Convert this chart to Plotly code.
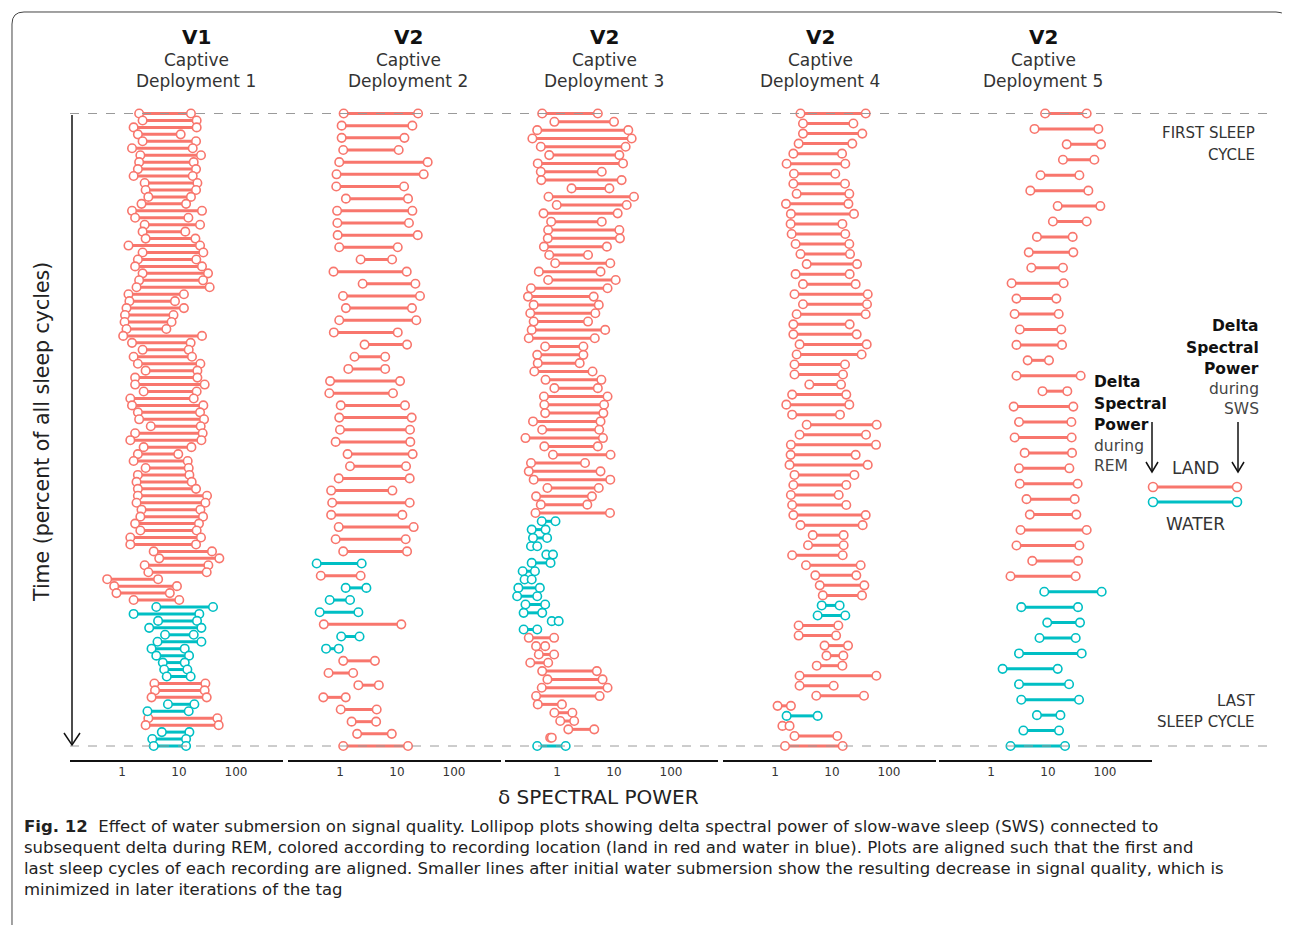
import plotly.graph_objects as go

W, H = 1290, 925
OFF = 8  # page body margin of the html page
RED = "#F8766D"
TEAL = "#00BFC4"
FONT = "DejaVu Sans"

# ---------------- data (REM = left end, SWS = right end) ----------------
titles_top = ["V1", "V2", "V2", "V2", "V2"]
titles_mid = ["Captive"] * 5
titles_bot = ["Deployment 1", "Deployment 2", "Deployment 3", "Deployment 4", "Deployment 5"]

tick_vals = [1, 10, 100]
tick_text = ["1", "10", "100"]

p1_rem = [2.0, 2.3, 1.6, 1.9, 2.3, 1.5, 2.1, 2.0, 1.9, 1.6,
          2.5, 2.6, 2.9, 2.2, 1.5, 1.7, 2.5, 2.3, 2.6, 1.3,
          2.3, 1.9, 1.7, 2.3, 2.0, 1.8, 1.3, 1.35, 1.2, 1.13,
          1.11, 1.2, 1.05, 1.5, 2.3, 1.6, 1.9, 2.6, 1.7, 1.7,
          2.4, 1.4, 1.5, 1.9, 2.0, 3.2, 1.7, 1.4, 2.4, 1.9,
          1.6, 2.6, 1.9, 1.8, 1.9, 1.9, 1.8, 2.2, 2.1, 1.7,
          2.1, 1.4, 1.4, 3.6, 4.5, 2.5, 2.9, 0.55, 0.73, 0.80,
          1.6, 4.0, 1.6, 4.3, 3.0, 5.7, 4.2, 3.3, 4.0, 5.2,
          5.5, 6.1, 3.7, 3.8, 3.3, 6.4, 2.8, 2.9, 2.6, 5.0,
          3.4, 3.6]
p1_sws = [16.2, 20.4, 20.4, 10.7, 19.9, 17.4, 24.3, 18.1, 19.9, 17.4,
          21.0, 19.9, 16.2, 13.3, 25.3, 14.6, 23.4, 12.9, 19.4, 23.4,
          26.7, 20.1, 25.3, 32.3, 26.4, 34.5, 12.2, 8.5, 12.2, 8.0,
          7.4, 6.0, 25.3, 16.0, 14.8, 16.9, 23.7, 21.0, 21.0, 28.2,
          20.4, 18.1, 26.7, 23.4, 27.5, 24.0, 26.0, 24.7, 16.5, 9.7,
          14.2, 14.8, 15.2, 16.7, 19.9, 31.0, 29.0, 23.7, 26.4, 22.4,
          20.4, 24.3, 19.9, 37.9, 51.0, 32.7, 30.6, 4.3, 9.2, 6.9,
          10.1, 39.5, 22.7, 20.7, 24.7, 18.1, 24.7, 12.6, 15.0, 12.6,
          14.0, 16.0, 29.0, 28.2, 30.6, 18.6, 14.8, 47.1, 49.7, 15.2,
          13.3, 13.3]
p1_loc = ("LLLLLLLLLL" "LLLLLLLLLL" "LLLLLLLLLL" "LLLLLLLLLL" "LLLLLLLLLL"
          "LLLLLLLLLL" "LLLLLLLLLL" "LWWWWWWWWW" "WWLLLWWLLW" "WW")

p2_rem = [1.16, 1.07, 1.07, 1.14, 0.97, 0.87, 0.86, 1.27, 0.89, 0.90,
          0.91, 0.97, 2.3, 0.77, 2.5, 1.13, 1.27, 0.97, 0.78, 2.7,
          1.8, 1.4, 0.67, 0.65, 1.03, 0.97, 1.0, 0.84, 1.36, 1.5,
          0.95, 0.70, 0.73, 0.70, 0.95, 0.84, 1.14, 0.39, 0.46, 1.26,
          0.66, 0.44, 0.52, 1.05, 0.57, 1.14, 0.63, 2.1, 0.51, 1.03,
          1.6, 2.0, 1.14]
p2_sws = [23.4, 18.6, 13.5, 10.7, 34.5, 29.4, 13.3, 15.6, 18.6, 16.2,
          23.1, 10.3, 8.2, 14.8, 21.0, 25.3, 18.3, 21.8, 10.3, 15.0,
          6.2, 6.2, 11.3, 8.5, 13.8, 18.1, 16.9, 17.1, 18.8, 14.4,
          16.7, 8.3, 16.7, 12.4, 19.6, 14.2, 15.0, 2.4, 2.3, 2.9,
          1.5, 2.1, 11.9, 2.2, 0.95, 4.1, 1.7, 4.8, 1.26, 4.4,
          4.3, 8.1, 15.6]
p2_loc = ("LLLLLLLLLL" "LLLLLLLLLL" "LLLLLLLLLL" "LLLLLLLWLW" "WWLWWLLLLL" "LLL")

p3_rem = [0.55, 0.90, 0.45, 0.37, 0.52, 0.73, 0.46, 0.52, 0.53, 1.8,
          0.71, 0.99, 0.58, 0.79, 0.70, 0.69, 0.59, 0.73, 0.93, 0.48,
          0.70, 0.35, 0.31, 0.39, 0.34, 0.39, 0.36, 0.32, 0.62, 0.45,
          0.46, 0.40, 0.63, 0.90, 0.59, 0.60, 0.62, 0.38, 0.55, 0.28,
          0.60, 0.85, 0.35, 0.32, 0.39, 0.68, 0.43, 0.52, 0.42, 0.54,
          0.36, 0.38, 0.35, 0.65, 0.36, 0.25, 0.27, 0.21, 0.20, 0.28,
          0.26, 0.81, 0.26, 0.32, 0.43, 0.48, 0.34, 0.55, 0.68, 0.54,
          0.43, 0.46, 0.90, 1.14, 1.58, 0.76, 0.45]
p3_sws = [5.2, 10.0, 17.8, 20.4, 16.0, 12.4, 14.4, 6.1, 13.6, 8.3,
          22.4, 16.7, 11.6, 6.1, 12.4, 12.7, 7.5, 3.5, 8.6, 5.8,
          10.7, 7.7, 4.4, 5.4, 4.7, 3.5, 7.0, 4.6, 2.9, 2.9,
          2.5, 4.2, 6.0, 5.2, 7.7, 6.7, 6.5, 5.8, 5.5, 6.4,
          5.2, 8.7, 3.1, 5.8, 8.6, 5.4, 4.1, 3.4, 8.5, 0.94,
          0.63, 0.67, 0.45, 0.85, 0.77, 0.41, 0.36, 0.50, 0.45, 0.62,
          0.55, 1.07, 0.45, 0.89, 0.62, 0.89, 0.70, 5.0, 6.3, 7.7,
          5.6, 1.22, 1.86, 2.0, 4.5, 0.81, 1.42]
p3_loc = ("LLLLLLLLLL" "LLLLLLLLLL" "LLLLLLLLLL" "LLLLLLLLLL" "LLLLLLLLLW"
          "WWWWWWWWWW" "WWWLLLLLLL" "LLLLLLW")

p4_rem = [2.8, 3.1, 3.1, 2.6, 2.1, 1.6, 2.15, 2.1, 2.4, 1.56,
          1.9, 1.88, 1.96, 2.3, 2.8, 3.6, 2.3, 3.1, 2.2, 3.1,
          2.4, 2.1, 2.1, 2.7, 2.4, 2.2, 2.2, 4.0, 2.0, 1.58,
          2.0, 3.6, 2.7, 1.9, 1.88, 1.8, 2.2, 2.1, 1.9, 2.0,
          2.1, 2.8, 4.6, 3.8, 2.0, 3.5, 5.1, 6.1, 6.9, 6.6,
          5.6, 2.6, 2.6, 7.4, 8.0, 5.4, 2.7, 2.7, 5.3, 1.11,
          1.6, 1.35, 2.2, 1.5]
p4_sws = [39.0, 23.7, 34.0, 22.7, 15.0, 17.1, 11.4, 16.9, 20.1, 19.4,
          24.3, 15.2, 17.1, 20.1, 20.7, 27.5, 20.4, 26.0, 42.3, 41.1,
          39.0, 20.4, 27.1, 40.6, 33.1, 16.9, 15.6, 14.4, 17.8, 20.1,
          13.8, 60.8, 39.5, 59.2, 26.0, 42.3, 24.7, 17.8, 13.1, 17.8,
          39.0, 34.5, 16.0, 16.0, 15.4, 31.8, 26.7, 36.9, 33.6, 13.6,
          17.1, 12.9, 11.8, 19.1, 15.8, 15.2, 60.0, 10.7, 36.4, 1.9,
          5.6, 1.8, 12.4, 15.4]
p4_loc = ("LLLLLLLLLL" "LLLLLLLLLL" "LLLLLLLLLL" "LLLLLLLLLL" "LLLLLLLLLW"
          "WLLLLLLLLL" "WLLL")

p5_rem = [8.9, 5.8, 21.3, 18.3, 7.4, 4.9, 14.8, 12.2, 6.4, 4.6,
          5.1, 2.3, 2.8, 2.6, 3.2, 2.8, 4.4, 2.8, 8.0, 2.5,
          3.1, 2.6, 3.9, 3.1, 3.2, 4.2, 4.8, 3.3, 2.8, 5.3,
          2.2, 8.6, 3.4, 9.7, 7.1, 3.1, 1.6, 3.1, 3.4, 6.4,
          3.7, 2.2]
p5_sws = [47.7, 76.4, 85.1, 65.0, 35.5, 51.0, 82.8, 47.7, 27.1, 27.8,
          18.3, 18.8, 14.0, 15.4, 17.1, 17.6, 10.4, 37.4, 21.8, 27.8,
          25.7, 26.0, 26.4, 23.7, 33.1, 29.4, 31.4, 47.7, 35.5, 33.6,
          30.6, 87.4, 33.6, 36.4, 30.6, 39.0, 14.8, 23.4, 35.0, 16.5,
          15.6, 19.9]
p5_loc = ("LLLLLLLLLL" "LLLLLLLLLL" "LLLLLLLLLL" "LWWWWWWWWW" "WW")

panels = [(p1_rem, p1_sws, p1_loc), (p2_rem, p2_sws, p2_loc), (p3_rem, p3_sws, p3_loc),
          (p4_rem, p4_sws, p4_loc), (p5_rem, p5_sws, p5_loc)]

# ---------------- layout geometry (page pixels) ----------------
tick1_px = [122, 340, 557, 775, 991]   # pixel of value 1 on each panel
dec_px = 57.0                          # pixels per decade
left_px, right_px = 52, 161            # axis extent around value 1
row_top, row_bot = 113.5, 746.0        # first / last sleep cycle rows
dom_top, dom_bot = 100.0, 760.0        # plot area (axis line at bottom)


def px(x):
    return (x - OFF) / W


def py(y):
    return 1 - (y - OFF) / H


fig = go.Figure()
layout_axes = {}
colors = {"L": RED, "W": TEAL}

for k, (rem, sws, loc) in enumerate(panels):
    n = len(rem)
    idx = "" if k == 0 else str(k + 1)
    xa, ya = "x" + idx, "y" + idx
    for code in ["L", "W"]:
        lx, ly, mx, my = [], [], [], []
        for i in range(n):
            if loc[i] != code:
                continue
            lx += [rem[i], sws[i], None]
            ly += [i, i, None]
            mx += [rem[i], sws[i]]
            my += [i, i]
        if not mx:
            continue
        fig.add_trace(go.Scatter(x=lx, y=ly, mode="lines", xaxis=xa, yaxis=ya,
                                 line=dict(color=colors[code], width=3),
                                 hoverinfo="skip", showlegend=False))
        fig.add_trace(go.Scatter(x=mx, y=my, mode="markers", xaxis=xa, yaxis=ya,
                                 marker=dict(symbol="circle", size=8.5, color="white",
                                             line=dict(color=colors[code], width=1.6)),
                                 cliponaxis=False, showlegend=False))
    P = tick1_px[k]
    s = (row_bot - row_top) / (n - 1)
    yr = [(n - 1) + (dom_bot - row_bot) / s, -(row_top - dom_top) / s]
    layout_axes["xaxis" + idx] = dict(
        type="log", domain=[px(P - left_px), px(P + right_px)],
        range=[-left_px / dec_px, right_px / dec_px], anchor=ya,
        showgrid=False, zeroline=False, showline=True, linecolor="#111", linewidth=2,
        tickvals=tick_vals, ticktext=tick_text, ticks="",
        tickfont=dict(family=FONT, size=12, color="#333"))
    layout_axes["yaxis" + idx] = dict(
        domain=[py(dom_bot), py(dom_top)], range=yr, anchor=xa,
        showgrid=False, zeroline=False, showline=False, showticklabels=False, ticks="")

fig.update_layout(**layout_axes)

# ---------------- annotations ----------------
ann = []


def text(x, y, t, size=16, bold=False, xanchor="center", color="#222", family=FONT, angle=0):
    if bold:
        t = "<b>" + t + "</b>"
    ann.append(dict(x=px(x), y=py(y), xref="paper", yref="paper", text=t, showarrow=False,
                    xanchor=xanchor, yanchor="middle", textangle=angle,
                    font=dict(family=family, size=size, color=color)))


centers = [196, 408, 604, 820, 1043]
for k in range(5):
    text(centers[k], 37, titles_top[k], size=20, bold=True, color="#111")
    text(centers[k], 60, titles_mid[k], size=17, color="#333")
    text(centers[k], 81, titles_bot[k], size=17, color="#333")

text(42, 432, "Time (percent of all sleep cycles)", size=20.5, color="#222", angle=-90)
text(598, 797, "δ SPECTRAL POWER", size=20, color="#222")

text(1257, 133, "FIRST SLEEP", size=15, xanchor="right", color="#333")
text(1257, 155, "CYCLE", size=15, xanchor="right", color="#333")
text(1257, 701, "LAST", size=15, xanchor="right", color="#333")
text(1257, 722, "SLEEP CYCLE", size=15, xanchor="right", color="#333")

for j, (t, b) in enumerate([("Delta", True), ("Spectral", True), ("Power", True),
                            ("during", False), ("SWS", False)]):
    text(1261, [326, 348, 369, 389, 409][j], t, size=15.5, bold=b, xanchor="right",
         color="#111" if b else "#444")
for j, (t, b) in enumerate([("Delta", True), ("Spectral", True), ("Power", True),
                            ("during", False), ("REM", False)]):
    text(1092, [382, 404, 425, 446, 466][j], t, size=15.5, bold=b, xanchor="left",
         color="#111" if b else "#444")
text(1195, 468, "LAND", size=17, color="#333")
text(1195, 524, "WATER", size=17, color="#333")

cap = ["<b>Fig. 12</b>  Effect of water submersion on signal quality. Lollipop plots showing delta spectral power of slow-wave sleep (SWS) connected to",
       "subsequent delta during REM, colored according to recording location (land in red and water in blue). Plots are aligned such that the first and",
       "last sleep cycles of each recording are aligned. Smaller lines after initial water submersion show the resulting decrease in signal quality, which is",
       "minimized in later iterations of the tag"]
for j, line in enumerate(cap):
    text(22, 826 + j * 21, line, size=16.5, xanchor="left", color="#222", family="DejaVu Sans")

# ---------------- shapes ----------------
shapes = []


def seg(x0, y0, x1, y1, color="#111", width=1.5, dash=None):
    shapes.append(dict(type="line", xref="paper", yref="paper", x0=px(x0), y0=py(y0),
                       x1=px(x1), y1=py(y1), line=dict(color=color, width=width, dash=dash)))


def path(d, color="#111", width=1.5):
    shapes.append(dict(type="path", xref="paper", yref="paper", path=d,
                       line=dict(color=color, width=width)))


def ppath(points):
    return "M " + " L ".join(f"{px(a):.5f},{py(b):.5f}" for a, b in points)


# dashed first / last cycle lines
seg(70, row_top, 1270, row_top, color="#9a9a9a", width=1, dash="dash")
seg(70, row_bot, 1270, row_bot, color="#9a9a9a", width=1, dash="dash")
# time arrow
seg(72, 115, 72, 745, color="#111", width=1.5)
path(ppath([(64, 733), (72, 745), (80, 733)]), width=1.5)
# legend arrows
for ax in [1152, 1238]:
    seg(ax, 422, ax, 472, width=1.5)
    path(ppath([(ax - 6, 462), (ax, 472), (ax + 6, 462)]), width=1.5)
# legend lollipops
for yy, c in [(487, RED), (502, TEAL)]:
    seg(1153, yy, 1237, yy, color=c, width=3)
    for cx in [1153, 1237]:
        shapes.append(dict(type="circle", xref="paper", yref="paper",
                           x0=px(cx - 4.5), x1=px(cx + 4.5), y0=py(yy + 4.5), y1=py(yy - 4.5),
                           fillcolor="white", line=dict(color=c, width=1.6)))
# rounded frame
shapes.append(dict(type="path", xref="paper", yref="paper",
                   path=(f"M {px(12):.5f},{py(933):.5f} L {px(12):.5f},{py(24):.5f} "
                         f"Q {px(12):.5f},{py(12):.5f} {px(24):.5f},{py(12):.5f} "
                         f"L {px(1276):.5f},{py(12):.5f} Q {px(1288):.5f},{py(12):.5f} {px(1288):.5f},{py(24):.5f} "
                         f"L {px(1288):.5f},{py(933):.5f}"),
                   line=dict(color="#444", width=1)))

fig.update_layout(width=W, height=H, margin=dict(l=0, r=0, t=0, b=0),
                  paper_bgcolor="white", plot_bgcolor="white",
                  annotations=ann, shapes=shapes, showlegend=False)

fig.write_html("out.html")
